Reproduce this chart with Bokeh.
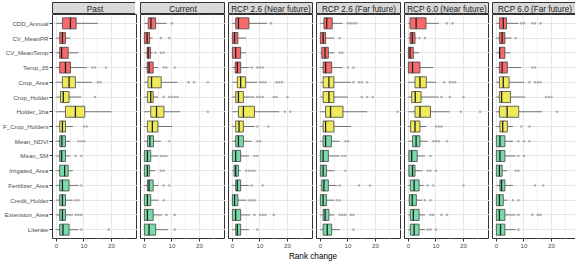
from bokeh.plotting import figure
from bokeh.models import FactorRange, Range1d, FixedTicker, Label, ColumnDataSource
from bokeh.layouts import row, column
from bokeh.transform import dodge
from bokeh.embed import file_html
from bokeh.resources import INLINE

# ---------------- data ----------------
VARIABLES = ["CDD_Annual", "CV_MeanPR", "CV_MeanTemp", "Temp_35", "Crop_Area",
             "Crop_Holder", "Holder_1ha", "F_Crop_Holders", "Mean_NDVI", "Mean_SM",
             "Irrigated_Area", "Fertilizer_Area", "Credit_Holder", "Extension_Area", "Literate"]
GROUPS = ["climate"] * 4 + ["farm"] * 4 + ["env"] * 7
PANELS = ["Past", "Current", "RCP 2.6 (Near future)", "RCP 2.6 (Far future)",
          "RCP 6.0 (Near future)", "RCP 6.0 (Far future)"]
X_TICKS = [0, 10, 20]
X_MINOR = [5, 15, 25]
X_LABEL = "Rank change"

# box stats per variable: [lower whisker, Q1, median, Q3, upper whisker]
PAST_BOX = [[0, 2.2, 5.1, 7.2, 15], [0, 1.2, 2.2, 3.3, 5], [0, 1.2, 1.9, 4.3, 8],
            [0, 1.2, 3.3, 5.1, 11], [0, 2.2, 4.6, 6.9, 13], [0, 1.5, 2.5, 4.6, 9],
            [0, 3.3, 6.9, 10.3, 20], [0, 1.2, 2.2, 3.3, 6], [0, 1.2, 2.0, 3.3, 5],
            [0, 1.2, 1.9, 3.3, 5], [0, 1.2, 3.0, 4.3, 6], [0, 1.2, 2.2, 4.6, 8],
            [0, 1.2, 2.2, 3.3, 6], [0, 1.2, 2.2, 3.3, 6], [0, 1.2, 2.4, 4.6, 8]]
PAST_OUT = [[], [], [], [13, 14, 18], [15, 16], [14], [], [10, 11], [8, 9, 10], [7, 9],
            [], [9], [7, 8], [7, 8, 9], [9, 19]]

CURRENT_BOX = [[0, 1.4, 2.4, 4.1, 8], [0, 0, 1.0, 1.9, 3], [0, 1.0, 1.4, 2.2, 3],
               [0, 1.0, 1.7, 3.2, 5], [0, 1.3, 2.6, 6.1, 12], [0, 1.1, 2.3, 3.2, 5],
               [0, 2.3, 4.4, 7.1, 13], [0, 1.1, 2.9, 4.9, 10], [0, 1.1, 2.0, 3.3, 6],
               [0, 0, 1.1, 2.3, 5], [0, 0, 1.1, 1.9, 4], [0, 1.1, 1.7, 3.2, 5],
               [0, 0, 1.1, 2.3, 5], [0, 0, 1.1, 3.2, 6.5], [0, 0, 1.7, 4.1, 8.5]]
CURRENT_OUT = [[10], [6, 9], [4, 6, 7], [7, 8, 11], [16, 18, 23], [7, 9, 10, 11, 12], [23],
               [], [9], [6, 7, 8], [6, 7], [7, 9], [7], [8, 11], [11]]

RCP26N_BOX = [[0, 1.2, 2.2, 6.0, 12.5], [0, 0, 0.8, 2.0, 5], [0, 0, 1.2, 3.0, 5],
              [0, 1.0, 1.8, 3.0, 6], [0, 1.8, 3.0, 4.8, 9], [0, 1.2, 2.2, 4.0, 8],
              [0, 2.2, 4.0, 8.0, 17], [0, 1.2, 2.4, 4.0, 8], [0, 1.2, 2.2, 4.0, 7],
              [0, 0, 1.2, 3.0, 6], [0, 0.6, 1.2, 2.2, 3], [0, 1.2, 1.8, 3.0, 6],
              [0, 0, 0.8, 2.0, 5], [0, 0, 1.2, 3.0, 6.5], [0, 1.2, 1.8, 3.0, 6]]
RCP26N_OUT = [[14], [], [], [7, 9, 10, 11], [10, 11, 12, 16, 17, 18], [9, 10, 11, 15, 16, 20],
              [19, 21], [9, 13], [9, 10], [8, 9], [5, 6, 7, 8], [7, 11], [6, 7, 8],
              [8, 10, 11, 12, 15], [9]]

RCP26F_BOX = [[0, 1.3, 2.3, 4.3, 8], [0, 0, 1.0, 1.9, 5], [0, 0.5, 1.7, 2.9, 5],
              [0, 1.0, 1.9, 4.1, 8], [0, 1.0, 3.1, 4.9, 11], [0, 1.0, 3.1, 4.9, 10],
              [0, 1.9, 3.7, 8.2, 17], [0, 1.0, 1.9, 4.9, 11], [0, 1.0, 1.9, 4.0, 7],
              [0, 0, 1.0, 2.9, 7], [0, 0, 1.0, 2.2, 5], [0, 0.5, 1.3, 2.9, 6],
              [0, 0, 1.0, 2.2, 5], [0, 1.0, 1.7, 3.1, 5], [0, 1.0, 2.5, 4.1, 7]]
RCP26F_OUT = [[10, 11, 12, 13], [7], [7, 8], [10, 12], [12, 14, 15, 17], [15, 17, 19], [28],
              [], [9, 10], [8, 9], [9], [7, 14, 18], [6, 7], [7, 8, 9, 11, 12], [12]]

RCP60N_BOX = [[0, 0.6, 2.8, 6.4, 11], [0, 0.6, 1.4, 2.4, 3], [0, 0, 0.6, 1.8, 4],
              [0, 0, 1.5, 4.2, 9], [0, 2.4, 4.2, 6.5, 10], [0, 1.2, 2.5, 4.6, 11],
              [0, 2.4, 4.2, 8.0, 15], [0, 0.8, 2.4, 4.2, 6.5], [0, 1.5, 2.8, 4.2, 7],
              [0, 0.2, 1.2, 3.2, 6], [0, 0.2, 1.5, 2.4, 5], [0, 0.7, 2.1, 3.9, 5.5],
              [0, 0.4, 1.4, 2.9, 5], [0, 0.7, 1.8, 3.9, 6], [0, 0.7, 2.1, 3.9, 6]]
RCP60N_OUT = [[14, 16], [4, 6], [], [], [13, 15, 16, 17], [12, 15, 20], [19, 26], [10, 11, 12],
              [9, 10, 11, 14], [8], [7, 8, 10], [7, 9, 20], [6, 8], [8, 9, 12, 14], [7, 8, 10]]

RCP60F_BOX = [[0, 1.1, 2.5, 3.7, 8], [0, 1.1, 2.1, 3.1, 5.5], [0, 1.1, 1.2, 3.1, 5],
              [0, 1.1, 2.1, 4.0, 9], [0, 1.1, 2.5, 4.6, 10], [0, 1.1, 1.9, 5.1, 10.5],
              [0, 1.1, 3.9, 8.1, 16.5], [0, 1.3, 2.3, 4.0, 6], [0, 0, 1.3, 3.1, 6],
              [0, 0, 1.3, 3.1, 7], [0, 0, 1.1, 2.1, 4], [0, 1.3, 1.9, 3.1, 6],
              [0, 0, 1.1, 2.5, 4], [0, 0, 1.1, 3.1, 7], [0, 0, 1.5, 3.1, 7]]
RCP60F_OUT = [[9, 10, 13, 14, 16], [7], [], [13, 14], [12, 14, 15, 16], [18, 19, 20], [22],
              [9, 12], [8, 10, 12], [8, 10], [7, 8], [14, 17], [6, 8], [8, 13, 15, 16], [8]]

BOXES = [PAST_BOX, CURRENT_BOX, RCP26N_BOX, RCP26F_BOX, RCP60N_BOX, RCP60F_BOX]
OUTLIERS = [PAST_OUT, CURRENT_OUT, RCP26N_OUT, RCP26F_OUT, RCP60N_OUT, RCP60F_OUT]

# ---------------- style / layout ----------------
COLORS = {"climate": "#F8696B", "farm": "#EFEA5A", "env": "#78DBA8"}
FONT = "Liberation Sans"
FW, FH = 85, 224          # frame size of each panel
SH = 12                   # strip height
TOP = 2
GAP = 3
YAXIS_W = 50
BOTTOM = 12
LH = 12
TOTAL_W = YAXIS_W + 6 * FW + 5 * GAP

# shared x scale with 5% expansion, as in the original facets
data_max = max(max(max(b[4] for b in box) for box in BOXES),
               max(v for outs in OUTLIERS for vals in outs for v in vals))
XMIN, XMAX = -0.05 * data_max, 1.05 * data_max


def style_common(p):
    p.background_fill_color = "white"
    p.border_fill_color = "white"
    p.outline_line_color = "#333333"
    p.outline_line_width = 1


columns = []
for i, (name, box, outs) in enumerate(zip(PANELS, BOXES, OUTLIERS)):
    first = (i == 0)
    left = YAXIS_W if first else GAP

    # strip
    s = figure(frame_width=FW, frame_height=SH, x_range=Range1d(0, 1), y_range=Range1d(0, 1),
               output_backend="svg", toolbar_location=None, x_axis_location=None,
               y_axis_location=None, min_border=0, min_border_left=left, min_border_top=TOP)
    style_common(s)
    s.background_fill_color = "#d9d9d9"
    s.xgrid.visible = False
    s.ygrid.visible = False
    s.add_layout(Label(x=0.5, y=0.45, text=name, text_align="center", text_baseline="middle",
                       text_font_size="8.2px", text_color="#1a1a1a", text_font=FONT))

    # panel
    yr = FactorRange(factors=VARIABLES[::-1], range_padding=0.1, range_padding_units="absolute")
    p = figure(frame_width=FW, frame_height=FH, x_range=Range1d(XMIN, XMAX), y_range=yr,
               output_backend="svg", toolbar_location=None,
               y_axis_location="left" if first else None,
               min_border=0, min_border_left=left, min_border_bottom=BOTTOM)
    style_common(p)
    p.xaxis.ticker = FixedTicker(ticks=X_TICKS, minor_ticks=X_MINOR)
    p.xgrid.grid_line_color = "#e6e6e6"
    p.xgrid.minor_grid_line_color = "#f1f1f1"
    p.ygrid.grid_line_color = "#e6e6e6"
    for ax in p.axis:
        ax.axis_line_color = None
        ax.major_tick_line_color = "#333333"
        ax.major_tick_out = 3
        ax.major_tick_in = 0
        ax.minor_tick_line_color = None
        ax.major_label_text_font = FONT
        ax.major_label_text_font_size = "6.2px"
        ax.major_label_text_color = "#4d4d4d"
        ax.major_label_standoff = 1

    src = ColumnDataSource(dict(
        var=VARIABLES,
        lo=[b[0] for b in box], q1=[b[1] for b in box], med=[b[2] for b in box],
        q3=[b[3] for b in box], hi=[b[4] for b in box],
        color=[COLORS[g] for g in GROUPS]))
    p.segment(x0="lo", y0="var", x1="q1", y1="var", source=src, line_color="#666666", line_width=0.9)
    p.segment(x0="q3", y0="var", x1="hi", y1="var", source=src, line_color="#666666", line_width=0.9)
    p.hbar(y="var", left="q1", right="q3", height=0.75, source=src, fill_color="color",
           line_color="#444444", line_width=0.8)
    p.segment(x0="med", y0=dodge("var", -0.375, range=yr), x1="med",
              y1=dodge("var", 0.375, range=yr), source=src, line_color="#222222", line_width=1.3)

    ox = [v for vals in outs for v in vals]
    oy = [VARIABLES[j] for j, vals in enumerate(outs) for _ in vals]
    p.scatter(x=ox, y=oy, size=2.6, fill_color="#9a9a9a", line_color=None, fill_alpha=0.75)

    columns.append(column(s, p, spacing=0))

# x-axis title
lf = figure(width=TOTAL_W, height=LH, x_range=Range1d(0, TOTAL_W), y_range=Range1d(0, LH),
            output_backend="svg", toolbar_location=None, x_axis_location=None,
            y_axis_location=None, min_border=0)
lf.outline_line_color = None
lf.background_fill_color = "white"
lf.border_fill_color = "white"
lf.xgrid.visible = False
lf.ygrid.visible = False
lf.add_layout(Label(x=YAXIS_W + (6 * FW + 5 * GAP) / 2, y=LH - 1, text=X_LABEL,
                    text_align="center", text_baseline="top", text_font_size="8.2px",
                    text_color="black", text_font=FONT))

layout = column(row(*columns, spacing=0), lf, spacing=0)
open("out.html", "w").write(file_html(layout, INLINE))
